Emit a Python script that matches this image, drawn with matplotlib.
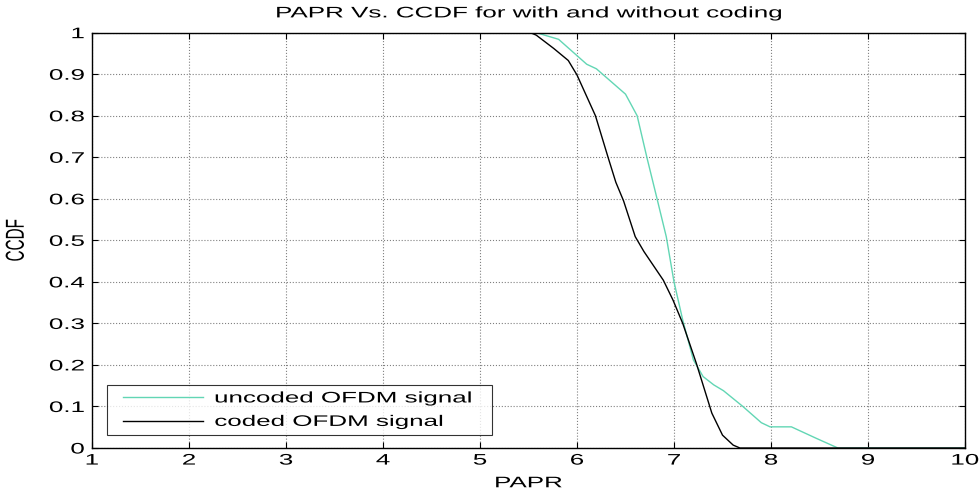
import numpy as np
import matplotlib
matplotlib.use("Agg")
import matplotlib.pyplot as plt
from matplotlib.patheffects import AbstractPathEffect
from matplotlib.transforms import Affine2D, offset_copy
from matplotlib.lines import Line2D
from matplotlib.legend_handler import HandlerLine2D

# PAPR (dB) vs CCDF
papr_uncoded = [1, 5.58, 5.81, 6.10, 6.20, 6.50, 6.62, 6.72, 6.82, 6.92, 7.00,
                7.09, 7.20, 7.30, 7.41, 7.51, 7.71, 7.90, 7.99, 8.21, 8.47, 8.69, 10]
ccdf_uncoded = [1, 1.0, 0.984, 0.924, 0.913, 0.852, 0.80, 0.70, 0.605, 0.509, 0.40,
                0.308, 0.212, 0.172, 0.152, 0.138, 0.10, 0.061, 0.051, 0.051, 0.023, 0.0, 0.0]

papr_coded = [1, 5.52, 5.58, 5.76, 5.91, 6.00, 6.19, 6.32, 6.40, 6.48, 6.60, 6.69,
              6.89, 6.99, 7.09, 7.23, 7.39, 7.50, 7.61, 7.68, 10]
ccdf_coded = [1, 1.0, 0.994, 0.962, 0.933, 0.898, 0.80, 0.70, 0.64, 0.595, 0.509, 0.473,
              0.404, 0.356, 0.30, 0.204, 0.084, 0.031, 0.007, 0.0, 0.0]

xticks = np.arange(1, 11)
xticklabels = [str(v) for v in xticks]
yticks = np.round(np.arange(0, 1.01, 0.1), 1)
yticklabels = ["0", "0.1", "0.2", "0.3", "0.4", "0.5", "0.6", "0.7", "0.8", "0.9", "1"]

SX = 1.7  # the reference was stretched sideways, text included


# widen each text's glyphs about its anchor when drawing
class HStretch(AbstractPathEffect):
    def __init__(self, sx=SX, anchor="center"):
        super().__init__()
        self.sx = sx
        self.anchor = anchor

    def draw_path(self, renderer, gc, tpath, affine, rgbFace=None):
        if len(tpath.vertices) == 0:
            return
        ext = affine.transform_path(tpath).get_extents()
        if self.anchor == "left":
            x0 = ext.x0
        elif self.anchor == "right":
            x0 = ext.x1
        else:
            x0 = 0.5 * (ext.x0 + ext.x1)
        tr = affine + Affine2D().translate(-x0, 0).scale(self.sx, 1).translate(x0, 0)
        renderer.draw_path(gc, tpath, tr, rgbFace)


plt.rcParams["font.family"] = ["Liberation Sans", "DejaVu Sans"]
FS = 11

fig = plt.figure(figsize=(9.8, 4.95), dpi=100)
ax = fig.add_axes([0.0939, 0.0949, 0.8908, 0.8391])

ax.plot(papr_uncoded, ccdf_uncoded, color="#62d6b4", lw=1.0, label="uncoded OFDM signal")
ax.plot(papr_coded, ccdf_coded, color="black", lw=1.0, label="coded OFDM signal")

ax.set_xlim(1, 10)
ax.set_ylim(0, 1)
ax.set_xticks(xticks)
ax.set_yticks(yticks)
ax.tick_params(direction="in", top=True, right=True, length=4,
               labelbottom=False, labelleft=False)
ax.grid(True, color="#808080", linestyle=":", linewidth=0.8)
for s in ax.spines.values():
    s.set_linewidth(1.0)

# tick labels as plain texts so they take the stretch
xtr = offset_copy(ax.get_xaxis_transform(), fig=fig, y=-4, units="points")
for v, s in zip(xticks, xticklabels):
    ax.text(v, 0, s, transform=xtr, ha="center", va="top", fontsize=FS,
            path_effects=[HStretch(anchor="center")])
ytr = offset_copy(ax.get_yaxis_transform(), fig=fig, x=-5.5, units="points")
for v, s in zip(yticks, yticklabels):
    ax.text(0, v, s, transform=ytr, ha="right", va="center_baseline", fontsize=FS,
            path_effects=[HStretch(anchor="right")])

t = ax.set_title("PAPR Vs. CCDF for with and without coding", fontsize=FS, pad=11)
t.set_path_effects([HStretch(anchor="center")])
xl = ax.set_xlabel("PAPR", fontsize=FS)
ax.xaxis.set_label_coords(0.5, -0.068)
xl.set_path_effects([HStretch(anchor="center")])
yl = ax.set_ylabel("CCDF", fontsize=FS)
ax.yaxis.set_label_coords(-0.079, 0.5)
yl.set_path_effects([HStretch(anchor="center")])

leg = ax.legend(loc="lower left", bbox_to_anchor=(0.0172, 0.0313, 0.441, 0.12),
                mode="expand", borderaxespad=0, fontsize=FS, frameon=True,
                fancybox=False, edgecolor="black", handlelength=6.55,
                handletextpad=0.1, labelspacing=0.62, borderpad=0.4,
                handler_map={Line2D: HandlerLine2D(marker_pad=0.65, numpoints=2)})
leg.get_frame().set_linewidth(0.8)
for txt in leg.get_texts():
    txt.set_path_effects([HStretch(anchor="left")])

fig.savefig("out.png", dpi=100)
